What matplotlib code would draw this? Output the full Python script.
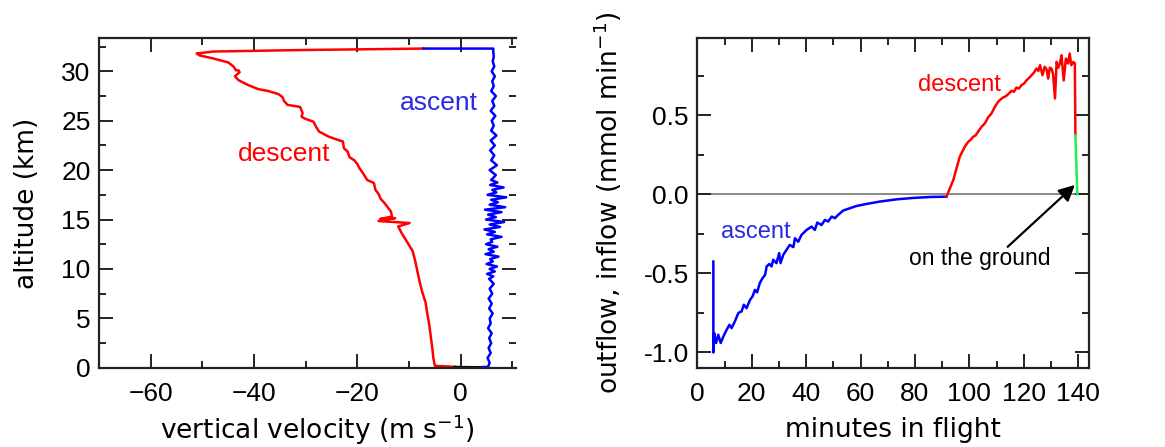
"""Balloon flight: vertical velocity profile and outflow/inflow during the flight."""
import matplotlib
matplotlib.use("Agg")
import matplotlib.pyplot as plt
from matplotlib.ticker import MultipleLocator, FormatStrFormatter

# ---- left panel: vertical velocity (m/s) vs altitude (km) ----------------
ascent_alt = [0.05, 0.1, 0.5, 1.0, 1.5, 2.0, 2.5, 3.0, 3.5, 4.0, 4.5, 5.0, 5.5,
              6.0, 6.5, 7.0, 7.5, 8.0, 8.5, 9.0,
              9.25, 9.5, 9.75, 10.0, 10.25, 10.5, 10.75, 11.0, 11.25, 11.5,
              11.75, 12.0, 12.25, 12.5, 12.75, 13.0, 13.25, 13.5, 13.75, 14.0,
              14.25, 14.5, 14.75, 15.0, 15.25, 15.5, 15.75, 16.0, 16.25, 16.5,
              16.75, 17.0, 17.25, 17.5, 17.75, 18.0, 18.25, 18.5, 18.75, 19.0,
              19.5, 20.0, 20.5, 21.0, 21.5, 22.0, 22.5, 23.0, 23.5, 24.0, 24.5,
              25.0, 25.5, 26.0, 26.5, 27.0, 27.5, 28.0, 28.5, 29.0, 29.5, 30.0,
              30.5, 31.0, 31.5, 32.0, 32.3, 32.3]
ascent_vel = [3.2, 5.3, 5.6, 5.2, 5.8, 5.4, 5.9, 5.5, 6.0, 5.3, 5.8, 5.6, 6.2,
              5.5, 6.0, 5.4, 6.1, 5.6, 6.4, 5.5,
              6.3, 5.1, 6.6, 5.6, 7.0, 5.0, 6.2, 5.7, 7.3, 4.8,
              6.4, 5.4, 7.1, 4.9, 6.1, 5.8, 7.9, 5.1, 6.6, 4.6,
              7.6, 5.6, 8.4, 4.9, 6.8, 5.3, 7.9, 4.7, 8.6, 5.6,
              7.2, 5.9, 8.8, 5.2, 6.9, 6.1, 8.3, 5.7, 7.1, 5.9,
              6.8, 5.6, 7.0, 5.9, 6.5, 5.7, 6.6, 5.8, 6.9, 5.9, 6.4,
              6.0, 6.7, 5.8, 6.5, 6.1, 6.8, 5.9, 6.4, 6.1, 6.6, 6.0,
              6.5, 6.2, 6.4, 6.3, 6.3, -7.2]

descent_alt = [32.3, 32.15, 32.0, 31.8, 31.6, 31.3, 30.9, 30.5, 30.1, 30.1,
               29.9, 29.5, 29.1, 28.6, 28.2, 28.0, 27.7, 27.4, 27.0, 26.6,
               26.4, 25.8, 25.4, 25.2, 24.9, 24.3, 23.9, 23.4, 23.1, 22.9,
               22.2, 21.9, 21.3, 21.0, 20.6, 20.2, 19.6, 19.0, 18.7, 18.0,
               17.6, 17.1, 16.7, 16.3, 15.8, 15.3, 15.05, 15.15, 14.85, 14.65,
               14.3, 13.6, 13.1, 12.5, 11.8, 10.8, 9.8, 8.6, 7.6, 6.6,
               5.6, 4.4, 3.2, 2.0, 1.0, 0.2, 0.1]
descent_vel = [-7.2, -31.1, -47.9, -51.1, -50.5, -47.9, -45.0, -44.0, -43.5, -43.0,
               -42.8, -43.7, -43.0, -41.1, -39.2, -37.2, -35.3, -34.5, -34.2, -33.5,
               -31.1, -30.6, -30.8, -30.1, -28.5, -27.9, -27.4, -25.6, -24.0, -22.8,
               -22.6, -21.9, -21.5, -20.6, -20.0, -19.6, -18.8, -18.1, -16.8, -16.5,
               -15.9, -15.5, -14.8, -14.2, -13.5, -13.3, -15.6, -12.7, -15.9, -9.9,
               -12.1, -11.4, -10.8, -10.1, -9.3, -8.8, -8.4, -7.9, -7.4, -6.8,
               -6.5, -6.1, -5.8, -5.5, -5.3, -5.0, -1.1]

ground_vel = [-1.1, 3.2]
ground_alt = [0.08, 0.05]

# ---- right panel: outflow/inflow (mmol/min) vs minutes in flight ---------
asc_t = [5.9, 5.9, 6.2, 6.9, 7.7, 8.6, 9.6, 10.8, 11.8, 12.6, 13.8, 15.1, 16.3,
         17.1, 18.1, 19.4, 20.3, 21.2, 22.0, 23.0, 24.0, 24.9, 25.5, 26.5, 27.3,
         27.9, 29.1, 30.1, 30.6, 31.6, 32.8, 34.0, 35.3, 35.9, 37.1, 38.3, 40.2,
         42.0, 43.2, 44.1, 45.7, 46.9, 48.1, 49.4, 50.6, 51.8, 53.6, 56.1, 58.5,
         62.2, 67.1, 73.2, 79.4, 85.5, 91.6]
asc_flux = [-0.425, -1.0, -0.877, -0.94, -0.888, -0.94, -0.898, -0.856, -0.825,
            -0.846, -0.804, -0.75, -0.74, -0.698, -0.72, -0.667, -0.646, -0.604,
            -0.62, -0.56, -0.53, -0.51, -0.456, -0.44, -0.456, -0.414, -0.435,
            -0.372, -0.435, -0.383, -0.351, -0.32, -0.334, -0.278, -0.3, -0.257,
            -0.225, -0.204, -0.225, -0.179, -0.194, -0.162, -0.172, -0.141,
            -0.151, -0.13, -0.103, -0.088, -0.074, -0.061, -0.046, -0.032,
            -0.023, -0.017, -0.015]

desc_t = [91.6, 94.1, 96.5, 98.3, 99.6, 100.5, 101.4, 102.3, 103.2, 104.5, 105.7,
          106.9, 108.1, 109.4, 110.6, 111.5, 112.4, 113.4, 114.3, 115.5, 116.4,
          117.3, 118.2, 119.2, 120.1, 121.0, 121.9, 122.9, 123.8, 124.7, 125.4,
          126.0, 126.9, 127.7, 128.4, 129.0, 129.6, 130.2, 130.8, 131.5, 132.1,
          132.7, 133.3, 133.9, 134.7, 135.5, 136.3, 136.9, 137.5, 138.2, 138.8, 139.0]
desc_flux = [-0.015, 0.09, 0.238, 0.30, 0.332, 0.345, 0.364, 0.372, 0.395, 0.427,
             0.448, 0.486, 0.51, 0.553, 0.585, 0.60, 0.612, 0.62, 0.633, 0.654,
             0.648, 0.675, 0.668, 0.69, 0.70, 0.72, 0.735, 0.753, 0.77, 0.795,
             0.78, 0.816, 0.753, 0.806, 0.79, 0.732, 0.80, 0.795, 0.76, 0.606,
             0.837, 0.80, 0.827, 0.879, 0.72, 0.858, 0.827, 0.89, 0.816, 0.837,
             0.827, 0.374]

ground_t = [139.0, 139.7]
ground_flux = [0.374, 0.0]

RED = "#ff0000"
BLUE = "#0000ff"
GREEN = "#22ee55"
AXC = "#222222"
TICKFONT = ["Liberation Sans", "DejaVu Sans"]

plt.rcParams["font.family"] = ["DejaVu Sans"]
fig = plt.figure(figsize=(11.65, 4.47), dpi=100)
W, H = 1165, 447


def px_axes(x0, x1, y0, y1):
    return fig.add_axes([x0 / W, 1 - y1 / H, (x1 - x0) / W, (y1 - y0) / H])


def style(ax):
    for sp in ax.spines.values():
        sp.set_linewidth(1.6)
        sp.set_color(AXC)
    ax.tick_params(which="both", direction="in", top=True, right=True,
                   color=AXC, width=1.4, labelsize=19,
                   labelfontfamily=TICKFONT)
    ax.tick_params(axis="x", pad=10)
    ax.tick_params(axis="y", pad=6)
    ax.tick_params(which="major", length=10)
    ax.tick_params(which="minor", length=5)


# ---- left ------------------------------------------------------------
ax1 = px_axes(99, 516, 37.7, 368.3)
ax1.plot(descent_vel, descent_alt, color=RED, lw=1.8)
ax1.plot(ascent_vel, ascent_alt, color=BLUE, lw=1.8)
ax1.plot(ground_vel, ground_alt, color="black", lw=1.8)
ax1.set_xlim(-70, 10.7)
ax1.set_ylim(-0.05, 33.4)
ax1.xaxis.set_major_locator(MultipleLocator(20))
ax1.xaxis.set_minor_locator(MultipleLocator(10))
ax1.yaxis.set_major_locator(MultipleLocator(5))
ax1.yaxis.set_minor_locator(MultipleLocator(2.5))
style(ax1)
ax1.spines["right"].set_visible(False)
ax1.set_xlabel("vertical velocity (m s$^{-1}$)", fontsize=19)
ax1.xaxis.label.set_va("center")
ax1.xaxis.set_label_coords((317 - 99) / (516 - 99), -(430 - 368.3) / 330.6)
ax1.set_ylabel("altitude (km)", fontsize=19)
ax1.yaxis.label.set_va("center")
ax1.yaxis.set_label_coords(-(99 - 27) / (516 - 99), 0.5)
ax1.text(-34.2, 21.6, "descent", color=RED, fontsize=19,
         family="Liberation Sans", ha="center", va="center")
ax1.text(-4.3, 26.8, "ascent", color="#2a2ae6", fontsize=19,
         family="Liberation Sans", ha="center", va="center")

# ---- right -----------------------------------------------------------
ax2 = px_axes(697.3, 1089, 37.7, 368.3)
ax2.axhline(0, color="#777777", lw=1.2, zorder=1)
ax2.plot(asc_t, asc_flux, color=BLUE, lw=1.8)
ax2.plot(desc_t, desc_flux, color=RED, lw=1.8)
ax2.plot(ground_t, ground_flux, color=GREEN, lw=1.8)
ax2.set_xlim(0, 144)
ax2.set_ylim(-1.1, 0.99)
ax2.xaxis.set_major_locator(MultipleLocator(20))
ax2.xaxis.set_minor_locator(MultipleLocator(10))
ax2.yaxis.set_major_locator(MultipleLocator(0.5))
ax2.yaxis.set_minor_locator(MultipleLocator(0.25))
ax2.yaxis.set_major_formatter(FormatStrFormatter("%.1f"))
style(ax2)
ax2.set_xlabel("minutes in flight", fontsize=19)
ax2.xaxis.label.set_va("center")
ax2.xaxis.set_label_coords(0.5, -(430 - 368.3) / 330.6)
ax2.set_ylabel("outflow, inflow (mmol min$^{-1}$)", fontsize=19)
ax2.yaxis.label.set_va("center")
ax2.yaxis.set_label_coords(-(697.3 - 608) / (1089 - 697.3), 0.5)
ax2.text(96.5, 0.69, "descent", color=RED, fontsize=17,
         family="Liberation Sans", ha="center", va="center")
ax2.text(21.4, -0.24, "ascent", color="#2a2ae6", fontsize=17,
         family="Liberation Sans", ha="center", va="center")
ax2.annotate("", xy=(138.8, 0.059), xytext=(114.1, -0.332),
             arrowprops=dict(arrowstyle="-|>", color="black", lw=1.6,
                             mutation_scale=24, shrinkA=0, shrinkB=0))
ax2.text(103.9, -0.408, "on the ground", color="black", fontsize=16.5,
         family="Liberation Sans", ha="center", va="center")

fig.savefig("out.png", dpi=100)
